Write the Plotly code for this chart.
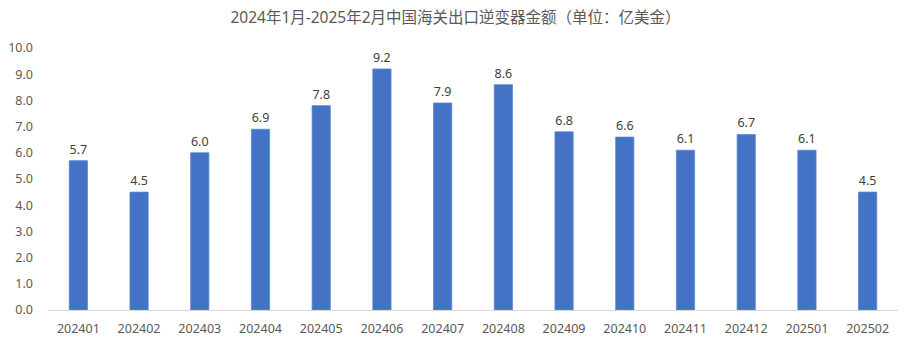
import plotly.graph_objects as go

months = ["202401", "202402", "202403", "202404", "202405", "202406", "202407",
          "202408", "202409", "202410", "202411", "202412", "202501", "202502"]
export_value = [5.7, 4.5, 6.0, 6.9, 7.8, 9.2, 7.9, 8.6, 6.8, 6.6, 6.1, 6.7, 6.1, 4.5]
y_ticks = [0, 1, 2, 3, 4, 5, 6, 7, 8, 9, 10]

latin = "Noto Sans, Noto Sans CJK SC, sans-serif"

fig = go.Figure(go.Bar(
    x=months,
    y=export_value,
    marker=dict(color="#4472C4", line=dict(color="#5B86D0", width=0.8)),
    text=[f"{v:.1f}" for v in export_value],
    textposition="outside",
    textfont=dict(family=latin, size=12.5, color="#404040"),
    cliponaxis=False,
))

fig.update_layout(
    width=911, height=344,
    margin=dict(l=48, r=13, t=48, b=34, autoexpand=False),
    paper_bgcolor="white", plot_bgcolor="white",
    font=dict(family=latin, color="#595959"),
    title=dict(text="2024年1月-2025年2月中国海关出口逆变器金额（单位：亿美金）",
               x=0.5, xanchor="center", y=0.95, yanchor="middle",
               font=dict(family="Noto Sans, Noto Sans CJK SC, sans-serif",
                         size=15.5, color="#595959")),
    bargap=0.70,
    showlegend=False,
)
fig.update_xaxes(
    type="category", showgrid=False, showline=True, linecolor="#D9D9D9", linewidth=1,
    ticks="", ticklabelstandoff=7, automargin=False,
    tickfont=dict(size=12.5, color="#595959"),
)
fig.update_yaxes(
    range=[0, 10], tickvals=y_ticks, tickformat=".1f", showgrid=False,
    zeroline=False, showline=False, ticks="", ticklen=0, ticklabelstandoff=14,
    automargin=False, tickfont=dict(size=12.5, color="#595959"),
)

fig.write_html("out.html")
